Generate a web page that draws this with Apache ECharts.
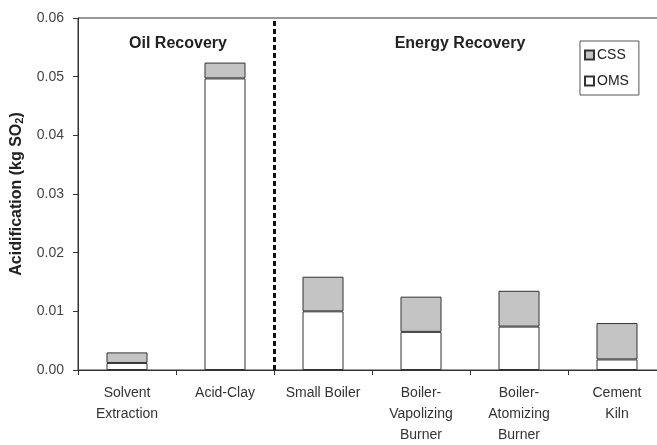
<!DOCTYPE html>
<html><head><meta charset="utf-8">
<script src="https://cdn.jsdelivr.net/npm/echarts@6/dist/echarts.min.js"></script>
<style>html,body{margin:0;padding:0;background:#fff}#c{width:657px;height:445px}</style>
</head><body><div id="c"></div>
<script>
var categories = ['Solvent\nExtraction', 'Acid-Clay', 'Small Boiler', 'Boiler-\nVapolizing\nBurner', 'Boiler-\nAtomizing\nBurner', 'Cement\nKiln'];
var omsValues = [0.0012, 0.0497, 0.0100, 0.0065, 0.0074, 0.0018];
var cssValues = [0.0018, 0.0027, 0.0059, 0.0060, 0.0061, 0.0062];
var yTicks = [0, 0.01, 0.02, 0.03, 0.04, 0.05, 0.06];
var groupLabels = ['Oil Recovery', 'Energy Recovery'];
var dividerPosition = 2; // boundary between the two groups (in category units)

var chart = echarts.init(document.getElementById('c'), null, {renderer: 'canvas'});
var font = 'Liberation Sans, Arial, sans-serif';
chart.setOption({
  animation: false,
  backgroundColor: '#fff',
  grid: {left: 78, top: 18, width: 588, bottom: 75, outerBoundsMode: 'none', show: true, borderColor: '#333', borderWidth: 1, backgroundColor: 'transparent'},
  legend: {
    data: ['CSS', 'OMS'],
    orient: 'vertical',
    left: 580, top: 41,
    padding: [7, 10, 7, 4],
    borderColor: '#555', borderWidth: 1,
    itemWidth: 9, itemHeight: 9, itemGap: 12,
    icon: 'rect',
    textStyle: {fontFamily: font, fontSize: 14, color: '#222', padding: [0, 0, 0, -2]}
  },
  xAxis: [{
    type: 'category',
    data: categories,
    axisLine: {lineStyle: {color: '#333'}},
    axisTick: {show: true, length: 5, lineStyle: {color: '#333'}},
    axisLabel: {fontFamily: font, fontSize: 14, color: '#333', lineHeight: 21, margin: 13, interval: 0}
  }, {
    type: 'value', min: 0, max: categories.length, show: false
  }],
  yAxis: {
    type: 'value', min: yTicks[0], max: yTicks[yTicks.length - 1], interval: 0.01,
    name: '{a|Acidification (kg SO}{b|2}{a|)}',
    nameLocation: 'middle', nameGap: 47, nameRotate: 90,
    nameTextStyle: {
      rich: {
        a: {fontFamily: font, fontSize: 16, fontWeight: 'bold', color: '#222'},
        b: {fontFamily: font, fontSize: 11, fontWeight: 'bold', color: '#222', verticalAlign: 'bottom', padding: [7, 0, 0, 0]}
      }
    },
    axisLine: {show: true, lineStyle: {color: '#333'}},
    axisTick: {show: true, length: 5, lineStyle: {color: '#333'}},
    splitLine: {show: false},
    axisLabel: {fontFamily: font, fontSize: 14, color: '#444', margin: 14, formatter: function (v) { return v.toFixed(2); }}
  },
  series: [
    {
      name: 'OMS', type: 'bar', stack: 'a', data: omsValues, barWidth: 41,
      itemStyle: {color: '#ffffff', borderColor: '#333', borderWidth: 1}
    },
    {
      name: 'CSS', type: 'bar', stack: 'a', data: cssValues, barWidth: 41,
      itemStyle: {color: '#c4c4c4', borderColor: '#333', borderWidth: 1}
    },
    {
      name: 'divider', type: 'scatter', xAxisIndex: 1, data: [[dividerPosition, 0]], symbolSize: 0, silent: true,
      markLine: {
        silent: true, symbol: 'none', label: {show: false},
        lineStyle: {color: '#111', type: [5, 3], width: 3},
        data: [{xAxis: dividerPosition}]
      }
    }
  ],
  graphic: [
    {type: 'text', x: 178, y: 36, style: {text: groupLabels[0], fontFamily: font, fontSize: 16, fontWeight: 'bold', fill: '#222', textAlign: 'center'}},
    {type: 'text', x: 460, y: 36, style: {text: groupLabels[1], fontFamily: font, fontSize: 16, fontWeight: 'bold', fill: '#222', textAlign: 'center'}}
  ]
});
</script></body></html>
